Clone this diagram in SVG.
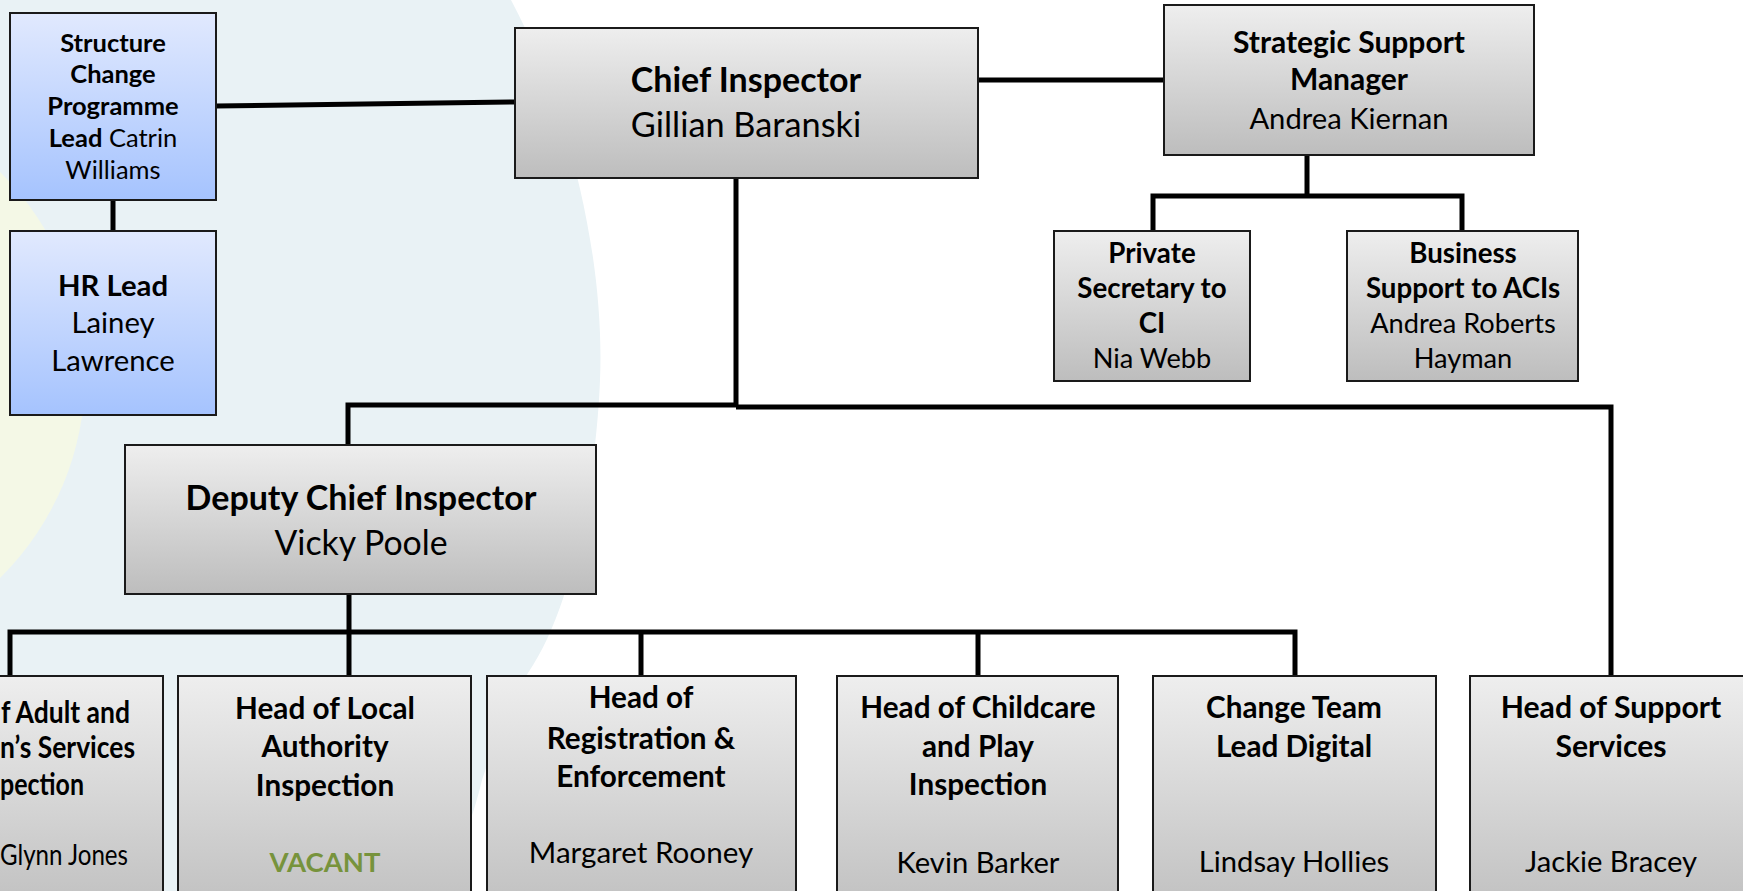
<svg xmlns="http://www.w3.org/2000/svg" width="1743" height="891" viewBox="0 0 1743 891">
<defs>
<linearGradient id="gGray" x1="0" y1="0" x2="0" y2="1">
<stop offset="0" stop-color="#EEEEEE"/>
<stop offset="1" stop-color="#BDBDBD"/>
</linearGradient>
<linearGradient id="gBlue" x1="0" y1="0" x2="0" y2="1">
<stop offset="0" stop-color="#E1E9FE"/>
<stop offset="1" stop-color="#A5C3FE"/>
</linearGradient>
<style>
.box{fill:url(#gGray);stroke:#1A1A1A;stroke-width:2}
.bbox{fill:url(#gBlue);stroke:#1A1A1A;stroke-width:2}
.con{fill:none;stroke:#000;stroke-width:5;stroke-linecap:butt;stroke-linejoin:miter}
text{font-family:Lato,"Liberation Sans",sans-serif;fill:#000;text-anchor:middle}
.b{font-weight:bold}
.s{text-anchor:start}
.vac{fill:#77933C;font-weight:bold}
</style>
</defs>
<rect x="0" y="0" width="1743" height="891" fill="#FFFFFF"/>
<g id="background">
<path d="M0,0 L511,0 C570,110 605,260 600,380 C597,460 578,600 528,673 C505,710 492,750 482,780 C470,830 455,860 440,891 L0,891 Z" fill="#E9F2F5"/>
<circle cx="-200" cy="375" r="285" fill="#F4F8E6"/>
</g>
<g id="connectors">
<path class="con" d="M216,106 L515,102"/>
<path class="con" d="M113,200 L113,231"/>
<path class="con" d="M978,80 L1164,80"/>
<path class="con" d="M1307,155 L1307,196 M1153,231 L1153,196 L1462,196 L1462,231"/>
<path class="con" d="M736,178 L736,406"/>
<path class="con" d="M736,405 L348,405 L348,445"/>
<path class="con" d="M736,407 L1611,407 L1611,676"/>
<path class="con" d="M349,594 L349,676"/>
<path class="con" d="M10,676 L10,632 L1295,632 L1295,676 M641,632 L641,676 M978,632 L978,676"/>
</g>
<g id="node-structure">
<rect class="bbox" x="10" y="13" width="206" height="187"/>
<text class="b" x="113" y="52" font-size="25.5">Structure</text>
<text class="b" x="113" y="83" font-size="25.5">Change</text>
<text class="b" x="113" y="115" font-size="25.5">Programme</text>
<text x="113" y="147" font-size="25.5"><tspan font-weight="bold">Lead</tspan> Catrin</text>
<text x="113" y="179" font-size="25.5">Williams</text>
</g>
<g id="node-hr">
<rect class="bbox" x="10" y="231" width="206" height="184"/>
<text class="b" x="113" y="296" font-size="29.3">HR Lead</text>
<text x="113" y="333" font-size="29.3">Lainey</text>
<text x="113" y="371" font-size="29.3">Lawrence</text>
</g>
<g id="node-chief">
<rect class="box" x="515" y="28" width="463" height="150"/>
<text class="b" x="746" y="92" font-size="34">Chief Inspector</text>
<text x="746" y="137" font-size="34.3">Gillian Baranski</text>
</g>
<g id="node-strategic">
<rect class="box" x="1164" y="5" width="370" height="150"/>
<text class="b" x="1349" y="53" font-size="30">Strategic Support</text>
<text class="b" x="1349" y="90" font-size="30">Manager</text>
<text x="1349" y="129" font-size="29.2">Andrea Kiernan</text>
</g>
<g id="node-private">
<rect class="box" x="1054" y="231" width="196" height="150"/>
<text class="b" x="1152" y="263" font-size="27.7">Private</text>
<text class="b" x="1152" y="298" font-size="27.7">Secretary to</text>
<text class="b" x="1152" y="333" font-size="27.7">CI</text>
<text x="1152" y="368" font-size="27.2">Nia Webb</text>
</g>
<g id="node-business">
<rect class="box" x="1347" y="231" width="231" height="150"/>
<text class="b" x="1463" y="263" font-size="27.7">Business</text>
<text class="b" x="1463" y="298" font-size="27.7">Support to ACIs</text>
<text x="1463" y="333" font-size="27.2">Andrea Roberts</text>
<text x="1463" y="368" font-size="27.2">Hayman</text>
</g>
<g id="node-deputy">
<rect class="box" x="125" y="445" width="471" height="149"/>
<text class="b" x="361" y="510" font-size="34">Deputy Chief Inspector</text>
<text x="361" y="555" font-size="33.8">Vicky Poole</text>
</g>
<g id="node-adult">
<rect class="box" x="-130" y="676" width="293" height="250"/>
<text class="b s" x="1" y="723" font-size="29.7" textLength="129" lengthAdjust="spacingAndGlyphs">f Adult and</text>
<text class="b s" x="0" y="758" font-size="29.7" textLength="135" lengthAdjust="spacingAndGlyphs">n’s Services</text>
<text class="b s" x="0" y="795" font-size="29.7" textLength="84" lengthAdjust="spacingAndGlyphs">pection</text>
<text class="s" x="0" y="865" font-size="29" textLength="128" lengthAdjust="spacingAndGlyphs">Glynn Jones</text>
</g>
<g id="node-local">
<rect class="box" x="178" y="676" width="293" height="250"/>
<text class="b" x="325" y="719" font-size="29.7">Head of Local</text>
<text class="b" x="325" y="757" font-size="29.7">Authority</text>
<text class="b" x="325" y="796" font-size="29.7">Inspection</text>
<text class="vac" x="325" y="872" font-size="27.5">VACANT</text>
</g>
<g id="node-registration">
<rect class="box" x="487" y="676" width="309" height="250"/>
<text class="b" x="641" y="708" font-size="29.7">Head of</text>
<text class="b" x="641" y="749" font-size="29.7">Registration &amp;</text>
<text class="b" x="641" y="787" font-size="29.7">Enforcement</text>
<text x="641" y="863" font-size="29.6">Margaret Rooney</text>
</g>
<g id="node-childcare">
<rect class="box" x="837" y="676" width="281" height="250"/>
<text class="b" x="978" y="718" font-size="29.7">Head of Childcare</text>
<text class="b" x="978" y="757" font-size="29.7">and Play</text>
<text class="b" x="978" y="795" font-size="29.7">Inspection</text>
<text x="978" y="873" font-size="29.2">Kevin Barker</text>
</g>
<g id="node-change">
<rect class="box" x="1153" y="676" width="283" height="250"/>
<text class="b" x="1294" y="718" font-size="29.7">Change Team</text>
<text class="b" x="1294" y="757" font-size="29.7">Lead Digital</text>
<text x="1294" y="872" font-size="29.2">Lindsay Hollies</text>
</g>
<g id="node-support">
<rect class="box" x="1470" y="676" width="282" height="250"/>
<text class="b" x="1611" y="718" font-size="30.2">Head of Support</text>
<text class="b" x="1611" y="757" font-size="30.2">Services</text>
<text x="1611" y="872" font-size="29.2">Jackie Bracey</text>
</g>
</svg>
